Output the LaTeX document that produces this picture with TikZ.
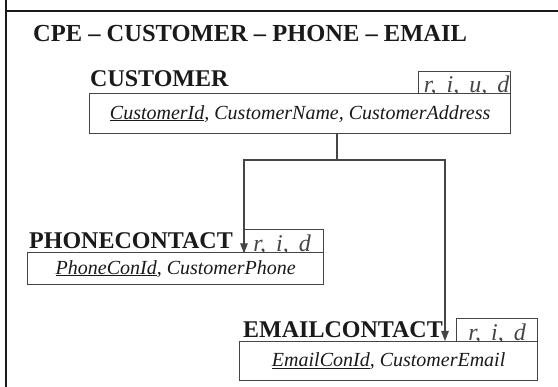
\documentclass[tikz,border=0pt]{standalone}
\usepackage{fontspec}
\setmainfont{Liberation Serif}
\usetikzlibrary{arrows.meta}
\definecolor{ink}{HTML}{1A1A1A}
\definecolor{edge}{HTML}{454545}
\tikzset{
  frameline/.style={draw=ink, line width=2pt},
  tablebox/.style={draw=edge, line width=1.3pt, fill=white, rectangle, inner sep=0pt,
    anchor=north west, font=\fontsize{20}{22}\selectfont\itshape, text=ink},
  rightsbox/.style={draw=edge, line width=1.3pt, rectangle, inner sep=0pt, anchor=north west},
  rightstext/.style={anchor=base, inner sep=0pt, font=\fontsize{24}{26}\selectfont\itshape, text=edge},
  tablename/.style={anchor=base west, inner sep=0pt, font=\fontsize{24}{26}\selectfont\bfseries, text=ink},
  link/.style={draw=edge, line width=1.3pt},
  linkarrow/.style={link, -{Triangle[length=10pt,width=7.5pt]}}
}
\begin{document}
\begin{tikzpicture}[x=1pt,y=-1pt]
\useasboundingbox (0,0) rectangle (558,387);
% page frame
\draw[frameline] (6,0) -- (6,387);
\draw[frameline] (6,11) -- (558,11);
% heading
\node[tablename, font=\fontsize{24.5}{27}\selectfont\bfseries] (title) at (33,42) {CPE – CUSTOMER – PHONE – EMAIL};

% CUSTOMER table
\node[rightsbox, minimum width=92pt, minimum height=22pt] (crd) at (418,71) {};
\node[rightstext] (crdt) at ([xshift=2pt,yshift=1.5pt]crd.south) {r,\, i,\, u,\, d};
\node[tablebox, minimum width=421pt, minimum height=40pt] (cust) at (89,93)
  {\underline{CustomerId}, CustomerName, CustomerAddress};
\node[tablename] (custname) at (90,87) {CUSTOMER};

% PHONECONTACT table
\node[rightsbox, minimum width=79pt, minimum height=23pt] (prd) at (244,229) {};
\node[rightstext] (prdt) at ([xshift=-2pt,yshift=1.5pt]prd.south) {r,\, i,\, d};
\node[tablebox, minimum width=296pt, minimum height=32pt] (phone) at (27,252)
  {\underline{PhoneConId}, CustomerPhone};
\node[tablename] (phonename) at (29,249) {PHONECONTACT};

% EMAILCONTACT table
\node[rightsbox, minimum width=81pt, minimum height=23pt] (erd) at (456,318) {};
\node[rightstext] (erdt) at ([yshift=1.5pt]erd.south) {r,\, i,\, d};
\node[tablebox, minimum width=298pt, minimum height=39pt] (email) at (239,341)
  {\underline{EmailConId}, CustomerEmail};
\node[tablename] (emailname) at (243,338) {EMAILCONTACT};

% references from CUSTOMER to the contact tables
\coordinate (split) at (337,160);
\coordinate (ein) at (445,341);
\draw[link] (split |- cust.south) -- (split);
\draw[linkarrow] (split) -| (prd.south west);
\draw[linkarrow] (split) -| (ein);
\end{tikzpicture}
\end{document}
